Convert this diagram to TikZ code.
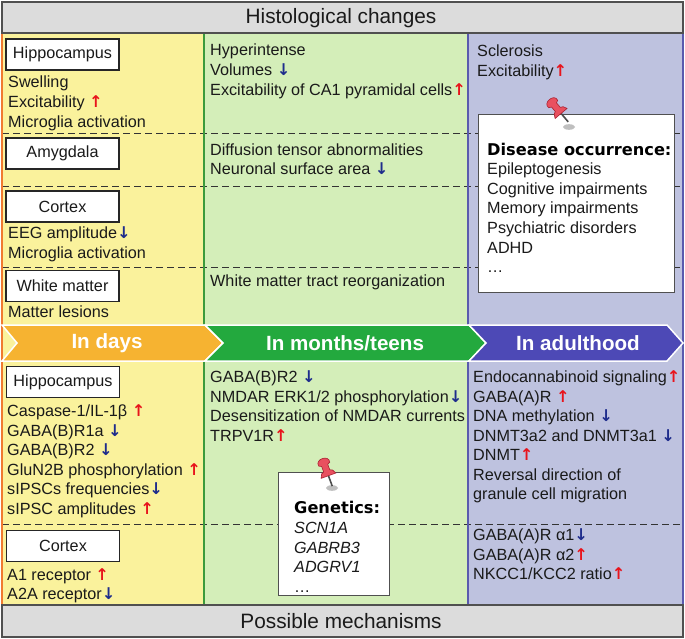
\documentclass[tikz,border=0pt]{standalone}
\usepackage{fontspec}
\setmainfont{Liberation Sans}
\newfontfamily\heavyfont{DejaVu Sans}
\definecolor{yel}{HTML}{FAF29C}
\definecolor{grn}{HTML}{D4EEB9}
\definecolor{blu}{HTML}{BEC2DF}
\definecolor{hdr}{HTML}{DCDCDC}
\definecolor{frame}{HTML}{505050}
\definecolor{bOrange}{HTML}{F6B331}
\definecolor{bGreen}{HTML}{23A93E}
\definecolor{bBlue}{HTML}{4D49B6}
\definecolor{upred}{HTML}{E8141C}
\definecolor{dnblue}{HTML}{1E2C8C}
\definecolor{txtc}{HTML}{1A1A1A}
\definecolor{edgeOr}{HTML}{F07A30}
\definecolor{edgeGr}{HTML}{3C9A3C}
\definecolor{edgeBl}{HTML}{5A5AAE}
\definecolor{pinred}{HTML}{E9505F}
\definecolor{pinedge}{HTML}{A82232}
\newcommand{\upa}{{\heavyfont\bfseries\textcolor{upred}{↑}}}
\newcommand{\dna}{{\heavyfont\bfseries\textcolor{dnblue}{↓}}}
\begin{document}
\begin{tikzpicture}[x=1pt,y=-1pt,
  txt/.style={anchor=west, inner sep=0pt, text height=11.5pt, text depth=0pt,
    font=\fontsize{16.2}{19}\selectfont, text=txtc},
  lbl/.style={draw=black!85, line width=1.1pt, fill=white, minimum width=113pt,
    minimum height=31pt, inner sep=0pt, font=\fontsize{16.2}{19}\selectfont, text=txtc},
  dashln/.style={draw=black!80, line width=0.9pt, dash pattern=on 7pt off 4pt},
  banner/.style={draw=white, line width=1.5pt},
  bantxt/.style={inner sep=0pt, text=white, font=\fontsize{20.6}{24}\selectfont\bfseries},
  note/.style={draw=frame, line width=1.2pt, fill=white, anchor=north west, inner sep=0pt},
  heavy/.style={txt, font=\fontsize{16.2}{19}\selectfont\heavyfont\bfseries, text=black},
  pushpin/.pic={
    \draw[gray!60!black, line width=1.6pt] (0,13) -- (0,23);
    \filldraw[fill=pinred, draw=pinedge, line width=0.6pt]
      (-6,14.5) -- (-4.5,11.5) -- (-2.5,10.5) -- (-2.5,6) -- (-4.5,5)
      .. controls (-6,-1) and (6,-1) .. (4.5,5)
      -- (2.5,6) -- (2.5,10.5) -- (4.5,11.5) -- (6,14.5) -- cycle;
  }]
\useasboundingbox (0,0) rectangle (685,639);
% column backgrounds
\fill[yel] (2,33) rectangle (204,605);
\fill[grn] (204,33) rectangle (468,605);
\fill[blu] (468,33) rectangle (683,605);
% dashed separators
\draw[dashln] (2,133) -- (683,133);
\draw[dashln] (2,186) -- (683,186);
\draw[dashln] (2,267) -- (683,267);
\draw[dashln] (2,524) -- (683,524);
% column edges
\draw[edgeOr, line width=1.2pt] (2,33) -- (2,605);
\draw[edgeGr, line width=1.2pt] (204,33) -- (204,605);
\draw[edgeBl, line width=1.2pt] (468,33) -- (468,605);
\draw[edgeBl, line width=1.2pt] (683,33) -- (683,605);
% header and footer
\draw[fill=hdr, draw=frame, line width=1.3pt] (2,2) rectangle (683,33);
\node[inner sep=0pt, font=\fontsize{20.8}{24}\selectfont, text=txtc] (head) at (341,18) {Histological changes};
\draw[fill=hdr, draw=frame, line width=1.3pt] (2,605) rectangle (683,637);
\node[inner sep=0pt, font=\fontsize{20.8}{24}\selectfont, text=txtc] (foot) at (341,621) {Possible mechanisms};
% banners
\filldraw[banner, fill=bOrange] (2,325) -- (205,325) -- (223,343) -- (205,361) -- (2,361) -- (17,343) -- cycle;
\filldraw[banner, fill=bGreen] (205,325) -- (469,325) -- (486,343) -- (469,361) -- (205,361) -- (223,343) -- cycle;
\filldraw[banner, fill=bBlue] (469,325) -- (667,325) -- (683,343) -- (667,361) -- (469,361) -- (486,343) -- cycle;
\node[bantxt] (b1) at (107,343) {In days};
\node[bantxt] (b2) at (345,343) {In months/teens};
\node[bantxt] (b3) at (578,343) {In adulthood};
% ---- top section ----
\node[lbl] (hipT) at (62.5,54.5) {Hippocampus};
\foreach \t [count=\i from 0] in {Swelling, Excitability \upa, Microglia activation}
  \node[txt] (hA\i) at (8,{82+20*\i}) {\t};
\node[lbl] (amy) at (62.5,153.5) {Amygdala};
\node[lbl] (corT) at (62.5,206.5) {Cortex};
\foreach \t [count=\i from 0] in {EEG amplitude\dna, Microglia activation}
  \node[txt] (cA\i) at (8,{233+20*\i}) {\t};
\node[lbl] (wm) at (62.5,286) {White matter};
\node[txt] (wA) at (8,312) {Matter lesions};
\foreach \t [count=\i from 0] in {Hyperintense, Volumes \dna, Excitability of CA1 pyramidal cells\upa}
  \node[txt] (gA\i) at (210,{50+20*\i}) {\t};
\node[txt] (gB0) at (210,150) {Diffusion tensor abnormalities};
\node[txt] (gB1) at (210,169) {Neuronal surface area \dna};
\node[txt] (gC0) at (210,281) {White matter tract reorganization};
\node[txt] (uA0) at (477,51) {Sclerosis};
\node[txt] (uA1) at (477,71) {Excitability\upa};
% disease occurrence note
\node[note, minimum width=196pt, minimum height=178pt] (dbox) at (478,114) {};
\node[heavy] (dT) at (487,150) {Disease occurrence:};
\foreach \t [count=\i from 0] in {Epileptogenesis, Cognitive impairments, Memory impairments, Psychiatric disorders, ADHD}
  \node[txt] (dL\i) at (487,{169+19.6*\i}) {\t};
\node[txt] (dEll) at (487,267) {…};
\fill[gray!50] (569,127) ellipse [x radius=6pt, y radius=2.8pt];
\pic[rotate=40, scale=1.3] (pinA) at (549,99) {pushpin};
% ---- bottom section ----
\node[lbl] (hipB) at (63,382) {Hippocampus};
\foreach \t [count=\i from 0] in {Caspase-1/IL-1β \upa, GABA(B)R1a \dna, GABA(B)R2 \dna, GluN2B phosphorylation \upa, sIPSCs frequencies\dna, sIPSC amplitudes \upa}
  \node[txt] (hB\i) at (7,{411+19.5*\i}) {\t};
\node[lbl] (corB) at (63,546) {Cortex};
\node[txt] (cB0) at (7,575) {A1 receptor \upa};
\node[txt] (cB1) at (7,594) {A2A receptor\dna};
\foreach \t [count=\i from 0] in {GABA(B)R2 \dna, NMDAR ERK1/2 phosphorylation\dna, Desensitization of NMDAR currents, TRPV1R\upa}
  \node[txt] (gD\i) at (210,{377+19.6*\i}) {\t};
\foreach \t [count=\i from 0] in {Endocannabinoid signaling\upa, GABA(A)R \upa, DNA methylation \dna, DNMT3a2 and DNMT3a1 \dna, DNMT\upa, Reversal direction of, granule cell migration}
  \node[txt] (uB\i) at (473,{377+19.5*\i}) {\t};
\foreach \t [count=\i from 0] in {GABA(A)R α1\dna, GABA(A)R α2\upa, NKCC1/KCC2 ratio\upa}
  \node[txt] (uC\i) at (473,{535+19.5*\i}) {\t};
% genetics note
\node[note, minimum width=111pt, minimum height=123pt] (gbox) at (278,472) {};
\node[heavy] (gT) at (294,508) {Genetics:};
\foreach \t [count=\i from 0] in {SCN1A, GABRB3, ADGRV1}
  \node[txt, font=\fontsize{16.2}{19}\selectfont\itshape] (gG\i) at (294,{528+19.6*\i}) {\t};
\node[txt] (gEll) at (294,587) {…};
\fill[gray!50] (332,488) ellipse [x radius=6pt, y radius=2.8pt];
\pic[rotate=20, scale=1.3] (pinB) at (322,458) {pushpin};
\end{tikzpicture}
\end{document}
